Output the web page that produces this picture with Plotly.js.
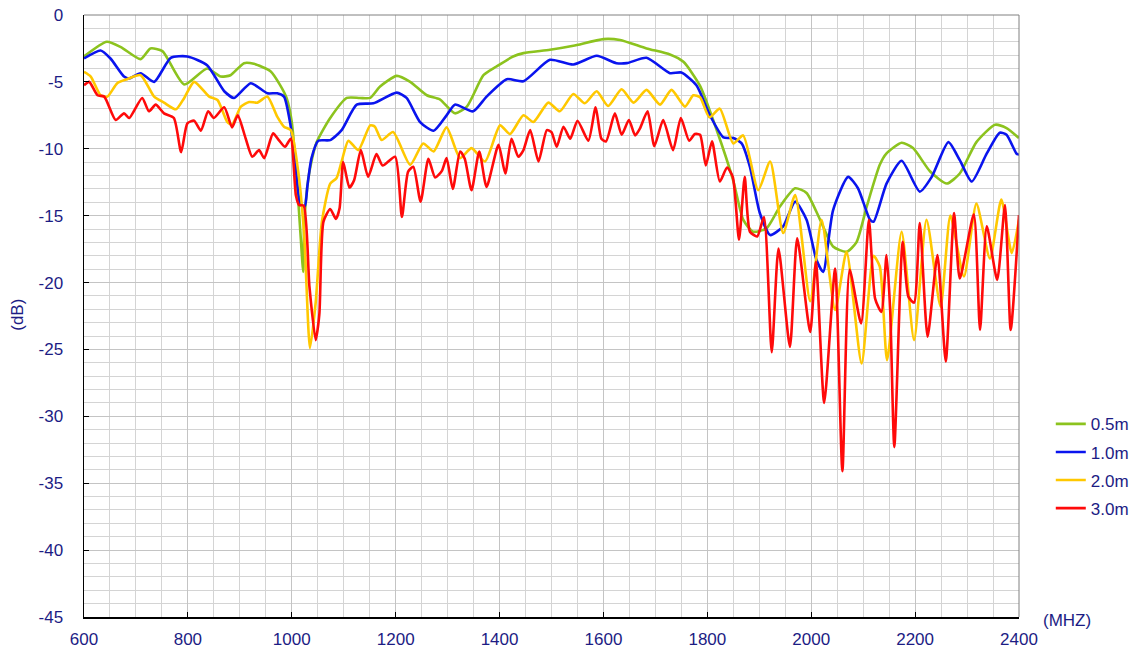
<!DOCTYPE html>
<html>
<head>
<meta charset="utf-8">
<script src="https://cdn.plot.ly/plotly-3.0.1.min.js"></script>
<style>html,body{margin:0;padding:0;background:#fff;}#chart{width:1137px;height:657px;}</style>
</head>
<body>
<div id="chart"></div>
<script>
// 0.5m
const f05 = [600,644,671,709,728,751,793,837,863,882,908,927,959,977,990,1000,1010,1017,1022,1024,1030,1036,1048,1074,1106,1131,1151,1170,1202,1228,1260,1285,1314,1337,1369,1394,1426,1446,1497,1542,1600,1632,1683,1728,1754,1786,1818,1850,1869,1888,1914,1940,1969,1991,2017,2042,2068,2087,2107,2132,2145,2174,2196,2229,2261,2286,2318,2354,2376,2400];
const d05 = [-3.1,-2.0,-2.4,-3.3,-2.5,-2.7,-5.2,-4.0,-4.6,-4.5,-3.6,-3.65,-4.2,-5.2,-6.2,-8.0,-12.5,-16.5,-19.2,-15.5,-12.8,-11.3,-9.5,-7.7,-6.2,-6.2,-6.2,-5.35,-4.55,-5.0,-6.0,-6.3,-7.35,-6.85,-4.5,-3.85,-3.1,-2.85,-2.6,-2.3,-1.8,-1.87,-2.5,-2.95,-3.5,-5.3,-8.6,-12.4,-15.3,-16.2,-15.95,-14.3,-12.95,-13.3,-15.3,-17.3,-17.7,-17.0,-14.3,-11.2,-10.35,-9.55,-9.95,-11.7,-12.6,-11.85,-9.5,-8.2,-8.45,-9.2];

// 1.0m
const f10 = [600,632,651,677,687,709,735,767,799,837,870,889,921,953,972,985,997,1006,1017,1025,1030,1038,1051,1074,1096,1125,1157,1202,1221,1247,1273,1298,1314,1349,1375,1414,1446,1497,1542,1587,1625,1645,1683,1728,1750,1779,1805,1831,1850,1866,1882,1901,1921,1946,1969,1991,2010,2023,2042,2071,2090,2113,2120,2145,2174,2209,2232,2264,2286,2309,2338,2363,2376,2395,2400];
const d10 = [-3.25,-2.65,-3.25,-4.6,-4.75,-4.35,-5.0,-3.2,-3.1,-3.75,-5.7,-6.2,-5.1,-5.85,-5.85,-6.1,-8.1,-10.8,-14.2,-14.3,-12.8,-10.7,-9.4,-9.35,-8.6,-6.7,-6.6,-5.8,-6.2,-8.0,-8.65,-7.5,-6.7,-7.2,-6.1,-4.8,-4.95,-3.35,-3.7,-3.05,-3.6,-3.6,-3.2,-4.35,-4.3,-5.25,-7.5,-9.15,-9.2,-9.6,-11.35,-14.8,-16.45,-15.8,-13.95,-15.3,-18.3,-19.2,-14.6,-12.1,-12.95,-15.3,-15.45,-12.6,-10.9,-13.2,-12.1,-9.5,-10.85,-12.45,-10.35,-8.8,-8.95,-10.35,-10.45];

// 2.0m
const f20 = [600,613,632,645,664,683,709,735,754,777,793,812,841,857,876,885,902,918,934,953,972,985,998,1012,1024,1035,1046,1058,1074,1086,1096,1109,1128,1151,1160,1173,1195,1228,1253,1273,1298,1324,1346,1372,1401,1420,1446,1465,1494,1516,1542,1564,1587,1609,1635,1658,1683,1709,1731,1757,1773,1786,1804,1824,1850,1869,1898,1921,1946,1969,1998,2020,2046,2068,2097,2120,2132,2146,2174,2198,2222,2249,2268,2294,2318,2344,2366,2386,2400];
const d20 = [-4.25,-4.6,-6.0,-6.1,-5.1,-4.8,-4.5,-6.1,-6.55,-7.05,-6.2,-5.0,-6.1,-6.35,-8.0,-8.2,-6.85,-6.5,-6.55,-6.1,-7.6,-8.35,-8.6,-11.6,-16.5,-24.9,-21.5,-15.45,-12.6,-12.2,-10.95,-9.4,-10.1,-8.25,-8.35,-9.35,-8.75,-11.2,-9.6,-10.2,-8.4,-10.7,-9.95,-10.95,-8.25,-8.9,-7.5,-8.0,-6.55,-7.2,-5.9,-6.6,-5.7,-6.8,-5.55,-6.55,-5.6,-6.7,-5.6,-6.85,-6.0,-6.15,-7.65,-7.0,-9.6,-9.0,-13.1,-10.95,-16.3,-13.45,-21.4,-15.3,-22.05,-17.7,-26.05,-18.0,-18.8,-25.8,-16.2,-24.3,-15.3,-21.8,-15.0,-19.55,-14.1,-18.2,-13.8,-17.8,-15.3];

// 3.0m
const f30 = [600,610,626,639,661,677,687,712,725,738,754,773,787,799,812,825,839,850,870,885,896,911,924,937,947,964,975,987,998,1008,1014,1023,1034,1046,1053,1061,1074,1085,1092,1099,1111,1120,1133,1147,1163,1175,1199,1212,1224,1234,1248,1263,1276,1289,1298,1310,1324,1333,1346,1361,1375,1398,1411,1423,1436,1446,1459,1475,1491,1500,1510,1523,1536,1550,1571,1585,1596,1605,1622,1635,1649,1661,1670,1685,1698,1715,1734,1749,1765,1776,1786,1797,1809,1824,1838,1849,1861,1872,1882,1896,1909,1924,1937,1959,1973,1998,2009,2025,2046,2060,2074,2096,2111,2123,2135,2145,2152,2160,2176,2187,2198,2209,2224,2243,2259,2275,2286,2313,2325,2338,2358,2373,2384,2400];
const d30 = [-5.25,-5.0,-6.0,-6.1,-7.85,-7.35,-7.7,-6.2,-7.2,-6.7,-7.35,-7.7,-10.25,-8.1,-7.9,-8.65,-7.2,-7.7,-6.9,-8.4,-7.5,-9.2,-10.6,-10.1,-10.7,-8.85,-9.35,-9.85,-9.25,-13.5,-14.2,-14.25,-20.3,-24.3,-22.4,-15.45,-14.5,-15.25,-14.45,-11.0,-12.9,-12.35,-10.1,-12.1,-10.4,-11.25,-10.6,-15.1,-11.7,-11.35,-13.95,-10.75,-12.15,-11.65,-10.7,-13.0,-10.2,-10.75,-13.1,-10.2,-12.85,-9.7,-11.85,-9.25,-10.6,-10.1,-8.6,-10.95,-8.6,-8.75,-9.85,-8.35,-9.25,-7.9,-9.4,-6.9,-9.25,-9.45,-7.35,-8.95,-7.85,-9.0,-8.5,-7.2,-9.8,-7.85,-10.1,-7.7,-9.4,-8.9,-8.95,-11.25,-9.45,-12.45,-11.4,-12.1,-16.8,-12.1,-16.2,-16.55,-15.1,-25.2,-17.45,-24.8,-16.7,-23.7,-18.45,-29.0,-18.95,-34.1,-19.05,-23.05,-15.3,-21.2,-22.2,-17.95,-22.05,-32.3,-16.95,-21.05,-21.5,-15.55,-24.05,-17.95,-25.9,-14.8,-19.7,-14.9,-23.55,-15.8,-19.8,-14.2,-23.55,-14.95];

const names = ['0.5m','1.0m','2.0m','3.0m'];
const colors = ['#8cc31e','#0a14ee','#ffc800','#ff0a0a'];
const xTicks = [600,800,1000,1200,1400,1600,1800,2000,2200,2400];
const yTicks = [0,-5,-10,-15,-20,-25,-30,-35,-40,-45];

const series = [[f05,d05],[f10,d10],[f20,d20],[f30,d30]];
const navy = '#1c1c84';
const fontFam = 'Liberation Sans, Arial, sans-serif';

const traces = series.map((s,i)=>({
  x: s[0], y: s[1], name: names[i], type: 'scatter', mode: 'lines',
  legendgroup: 'g' + i,
  line: {color: colors[i], width: 2.6, shape: 'spline', smoothing: 0.6},
  hoverinfo: 'skip'
}));

const layout = {
  width: 1137, height: 657,
  margin: {l: 84, r: 118, t: 15, b: 40, autoexpand: false},
  paper_bgcolor: '#fff', plot_bgcolor: '#fff',
  font: {family: fontFam, size: 17, color: navy},
  showlegend: true,
  legend: {x: 1.034, y: 0.35, xanchor: 'left', yanchor: 'top', font: {size: 17, color: navy}, itemwidth: 30, bgcolor: 'rgba(0,0,0,0)', tracegroupgap: 3},
  xaxis: {
    range: [600, 2400], tickvals: xTicks, ticktext: xTicks.map(String),
    showgrid: true, gridcolor: '#c4c4c4', gridwidth: 1,
    minor: {dtick: 50, tick0: 600, showgrid: true, gridcolor: '#d4d4d4', gridwidth: 1, ticks: ''},
    ticks: 'inside', ticklen: 5, tickcolor: '#000', tickwidth: 1,
    showline: true, linecolor: '#000', linewidth: 1.5,
    zeroline: false, ticklabelstandoff: 6,
    tickfont: {size: 17, color: navy, family: fontFam}
  },
  yaxis: {
    range: [-45, 0], tickvals: yTicks, ticktext: yTicks.map(String),
    showgrid: true, gridcolor: '#c4c4c4', gridwidth: 1,
    minor: {dtick: 1, tick0: 0, showgrid: true, gridcolor: '#d4d4d4', gridwidth: 1, ticks: ''},
    ticks: 'inside', ticklen: 5, tickcolor: '#000', tickwidth: 1,
    showline: true, linecolor: '#000', linewidth: 1.5,
    zeroline: false, ticklabelstandoff: 16,
    tickfont: {size: 17, color: navy, family: fontFam}
  },
  shapes: [
    {type: 'line', xref: 'paper', yref: 'paper', x0: 0, x1: 1, y0: 1, y1: 1, line: {color: '#808080', width: 1}},
    {type: 'line', xref: 'paper', yref: 'paper', x0: 1, x1: 1, y0: 0, y1: 1, line: {color: '#808080', width: 1}}
  ],
  annotations: [
    {text: '(MHZ)', xref: 'paper', yref: 'paper', x: 1.024, y: -0.005, xanchor: 'left', yanchor: 'middle', showarrow: false, font: {size: 17, color: navy, family: fontFam}},
    {text: '(dB)', xref: 'paper', yref: 'paper', x: -0.0706, y: 0.502, xanchor: 'center', yanchor: 'middle', textangle: -90, showarrow: false, font: {size: 17, color: navy, family: fontFam}}
  ]
};

Plotly.newPlot('chart', traces, layout, {displayModeBar: false, staticPlot: true});
</script>
</body>
</html>
